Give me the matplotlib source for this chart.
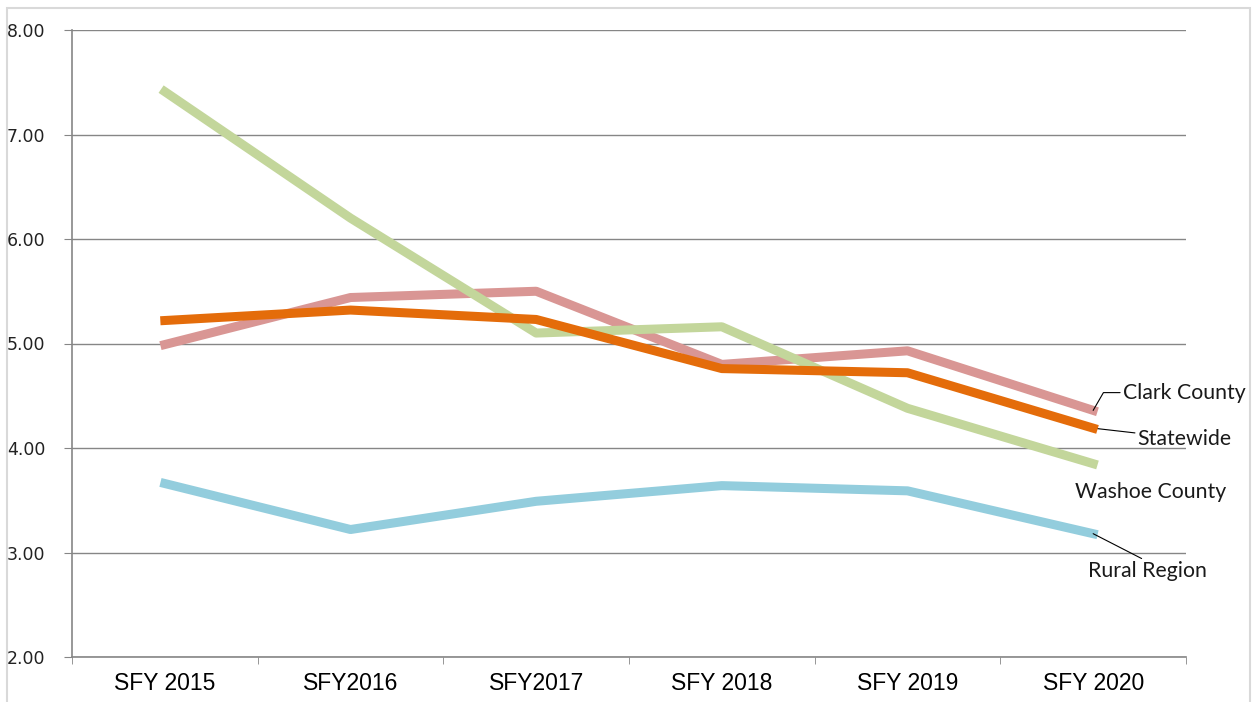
import matplotlib.pyplot as plt
from matplotlib.patches import Rectangle

years = ["SFY 2015", "SFY2016", "SFY2017", "SFY 2018", "SFY 2019", "SFY 2020"]
clark = [4.99, 5.44, 5.50, 4.80, 4.93, 4.36]
washoe = [7.41, 6.20, 5.10, 5.16, 4.38, 3.85]
statewide = [5.22, 5.32, 5.23, 4.76, 4.72, 4.19]
rural = [3.66, 3.22, 3.49, 3.64, 3.59, 3.18]

fig = plt.figure(figsize=(12.53, 7.02), dpi=100)
ax = fig.add_axes([72 / 1253, 45 / 702, 1114 / 1253, 627 / 702])

# outer frame of the picture
fig.patches.append(Rectangle((7 / 1253, -0.05), 1243 / 1253, 1.05 - 8 / 702,
                             transform=fig.transFigure, fill=False,
                             edgecolor="#d9d9d9", linewidth=1.5))

x = list(range(len(years)))
lw = 6.5
ax.plot(x, clark, color="#d99694", linewidth=lw, zorder=3)
ax.plot(x, washoe, color="#c3d69b", linewidth=lw, zorder=4)
ax.plot(x, statewide, color="#e46c0a", linewidth=lw, zorder=5)
ax.plot(x, rural, color="#93cddd", linewidth=lw, zorder=3)

ax.set_xlim(-0.5, 5.5)
ax.set_ylim(2, 8)
ax.set_yticks([2, 3, 4, 5, 6, 7, 8])
ax.set_yticklabels(["%.2f" % v for v in [2, 3, 4, 5, 6, 7, 8]],
                   fontsize=12.5, family="DejaVu Sans", color="#222222")
ax.yaxis.grid(True, color="#868686", linewidth=1)
ax.set_axisbelow(True)

ax.set_xticks(x)
ax.set_xticklabels(years, fontsize=16.5, family="Liberation Sans")
ax.tick_params(axis="x", length=0, pad=11)
ax.set_xticks([i - 0.5 for i in range(7)], minor=True)
ax.tick_params(axis="x", which="minor", length=5, color="#868686")
ax.tick_params(axis="y", length=6, color="#868686", pad=13)

for s in ["top", "right"]:
    ax.spines[s].set_visible(False)
for s in ["left", "bottom"]:
    ax.spines[s].set_color("#868686")
    ax.spines[s].set_linewidth(1.2)

# series labels with leader lines
lab = dict(fontsize=15.3, family="Lato", color="#1a1a1a", ha="left", va="center",
           annotation_clip=False)
ax.annotate("Clark County", xy=(5, clark[-1]), xytext=(5.16, 4.53),
            arrowprops=dict(arrowstyle="-", color="black", lw=0.8,
                            connectionstyle="angle,angleA=0,angleB=60,rad=0",
                            shrinkA=0, shrinkB=0), **lab)
ax.annotate("Statewide", xy=(5, statewide[-1]), xytext=(5.24, 4.09),
            arrowprops=dict(arrowstyle="-", color="black", lw=0.8,
                            shrinkA=0, shrinkB=0), **lab)
ax.annotate("Washoe County", xy=(5, washoe[-1]), xytext=(4.9, 3.58), **lab)
ax.annotate("Rural Region", xy=(5, rural[-1]), xytext=(4.97, 2.82),
            arrowprops=dict(arrowstyle="-", color="black", lw=0.8,
                            shrinkA=0, shrinkB=0,
                            relpos=(0.5, 1.0)), **lab)

fig.savefig("out.png", dpi=100)
